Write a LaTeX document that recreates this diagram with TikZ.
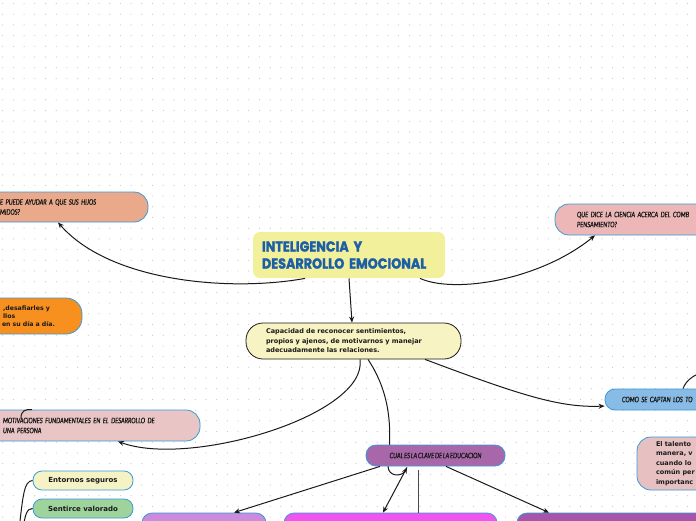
\documentclass[tikz,border=0pt]{standalone}
\usepackage{fontspec}
\usetikzlibrary{arrows.meta}
\newfontfamily\titlefont[FakeStretch=0.88,FakeBold=1.6]{Poppins}
\newfontfamily\handfont[FakeStretch=0.76,FakeBold=1.2,WordSpace=0.6]{Lato}
\newfontfamily\boxfont{DejaVu Sans}
\definecolor{bordblue}{HTML}{3A9AD9}
\definecolor{titlefill}{HTML}{F3F09B}
\definecolor{titleblue}{HTML}{1C5FA6}
\definecolor{salmon}{HTML}{E9A98A}
\definecolor{pinktr}{HTML}{EDB7B7}
\definecolor{orangef}{HTML}{F7901E}
\definecolor{capfill}{HTML}{F7F3C3}
\definecolor{motivfill}{HTML}{E9C5C5}
\definecolor{comofill}{HTML}{88BBE5}
\definecolor{talfill}{HTML}{E7C1C1}
\definecolor{cualfill}{HTML}{A867A9}
\definecolor{entfill}{HTML}{F5F3C6}
\definecolor{senfill}{HTML}{9ED39C}
\definecolor{lavfill}{HTML}{CB8CDD}
\definecolor{magfill}{HTML}{EF55EF}
\definecolor{purfill}{HTML}{A655AA}
\definecolor{dotc}{HTML}{C8C8C8}
\definecolor{inkc}{HTML}{1A1A1A}
\tikzset{
  mbox/.style={draw=bordblue, line width=0.8pt, inner sep=0pt, align=left},
  handtxt/.style={font=\handfont\itshape\fontsize{7.5}{10}\selectfont, text=inkc},
  boldtxt/.style={font=\boxfont\bfseries\fontsize{6.5}{9.5}\selectfont, text=inkc},
  conn/.style={draw=inkc, line width=1pt},
  arr/.style={conn, -{Stealth[length=6pt,width=5pt]}}
}
\begin{document}
\begin{tikzpicture}[x=1pt,y=-1pt]
\useasboundingbox (0,0) rectangle (696,520);
\clip (0,0) rectangle (696,520);
\fill[white] (0,0) rectangle (696,520);
\foreach \i in {0,...,65}{
  \foreach \j in {0,...,49}{
    \fill[dotc] (\i*10.7+2.7,\j*10.7+3.5) circle (0.6);
  }
}
\coordinate (offA) at (706,371);
\coordinate (offB) at (19,530);
\coordinate (offC) at (23,530);
\coordinate (offD) at (21,418);

% nodes
\node[mbox, draw=none, fill=titlefill, rounded corners=7pt, minimum width=192pt, minimum height=46pt,
      text width=174pt, font=\titlefont\bfseries\fontsize{14.5}{17}\selectfont, text=titleblue] (title) at (349,255)
      {INTELIGENCIA Y\\DESARROLLO EMOCIONAL};
\node[mbox, fill=salmon, rounded corners=14pt, minimum width=168pt, minimum height=30pt, text width=128pt, handtxt] (tl) at (64,207)
      {E PUEDE AYUDAR A QUE SUS HIJOS\\MIDOS?};
\node[mbox, fill=pinktr, rounded corners=14pt, minimum width=245pt, minimum height=31pt, text width=201pt, handtxt] (tr) at (677.5,219.5)
      {QUE DICE LA CIENCIA ACERCA DEL COMB\\PENSAMIENTO?};
\node[mbox, fill=orangef, rounded corners=16pt, minimum width=102pt, minimum height=36pt, text width=58pt,
      font=\boxfont\bfseries\fontsize{6.2}{8}\selectfont, text=inkc] (orng) at (31,316)
      {\,,desafiarles y\\\,llos\\en su día a día.};
\node[mbox, draw=inkc, fill=capfill, rounded corners=17pt, minimum width=215pt, minimum height=36pt, text width=175pt, boldtxt] (cap) at (353.5,341)
      {Capacidad de reconocer sentimientos,\\propios y ajenos, de motivarnos y manejar\\adecuadamente las relaciones.};
\node[mbox, fill=motivfill, rounded corners=14pt, minimum width=220pt, minimum height=31pt, text width=174pt, handtxt] (motiv) at (90,425.5)
      {MOTIVACIONES FUNDAMENTALES EN EL DESARROLLO DE\\UNA PERSONA};
\node[mbox, fill=comofill, rounded corners=10pt, minimum width=195pt, minimum height=21pt, text width=161pt, handtxt] (como) at (702.5,399.5)
      {COMO SE CAPTAN LOS TO};
\node[mbox, fill=talfill, rounded corners=14pt, minimum width=143pt, minimum height=53pt, text width=105pt, boldtxt] (tal) at (708.5,463.5)
      {El talento\\manera, v\\cuando lo\\común per\\importanc};

% connector behind CUAL box
\draw[arr] ([xshift=14.5pt]cap.south) .. controls (395,400) and (390,440) .. (388,466)
      .. controls (388,477) and (402,477) .. (407,467.5);

\node[mbox, fill=cualfill, rounded corners=10pt, minimum width=139pt, minimum height=21pt, align=center, handtxt] (cual) at (435.5,455.5)
      {CUAL ES LA CLAVE DE LA EDUCACION};
\node[mbox, fill=entfill, rounded corners=9pt, minimum width=100pt, minimum height=19pt, align=center,
      font=\boxfont\bfseries\fontsize{7}{9}\selectfont, text=inkc] (ent) at (83,480.5) {Entornos seguros};
\node[mbox, fill=senfill, rounded corners=9pt, minimum width=100pt, minimum height=19pt, align=center,
      font=\boxfont\bfseries\fontsize{7}{9}\selectfont, text=inkc] (sen) at (83,508.5) {Sentirce valorado};
\node[mbox, fill=lavfill, rounded corners=10pt, minimum width=124pt, minimum height=30pt] (lav) at (204,528) {};
\node[mbox, fill=magfill, rounded corners=10pt, minimum width=213pt, minimum height=30pt] (mag) at (390.5,528) {};
\node[mbox, fill=purfill, rounded corners=10pt, minimum width=243pt, minimum height=30pt] (pur) at (638.5,528) {};

% connectors
\draw[arr] ([xshift=-44pt]title.south) .. controls (230,292) and (110,282) .. ([xshift=-6pt]tl.south);
\draw[arr] ([xshift=71pt]title.south) .. controls (455,294) and (540,280) .. ([xshift=-82.5pt]tr.south);
\draw[arr] (title.south) -- ([xshift=-1.5pt]cap.north);
\draw[arr] ([xshift=6.5pt]cap.south) .. controls (368,415) and (190,468) .. ([xshift=28pt]motiv.south);
\draw[arr] ([xshift=71.5pt]cap.south) .. controls (520,395) and (560,408) .. ([yshift=-6.5pt]como.west);
\draw[conn] ([xshift=-19.5pt]como.north) .. controls (686,380) and (695,374) .. (offA);
\draw[arr] ([xshift=-55.5pt]cual.south) -- ([xshift=30pt]lav.north);
\draw[arr] ([xshift=-28.5pt,yshift=-1pt]cual.south) -- ([xshift=-7.5pt]mag.north);
\draw[conn, draw=inkc!80] ([xshift=-17.5pt,yshift=-4pt]cual.south) -- ([xshift=27.5pt]mag.north);
\draw[arr] ([xshift=10.5pt]cual.south) -- ([xshift=-89.5pt]pur.north);
\draw[conn] (offB) .. controls (23,495) and (24,481) .. (ent.west);
\draw[conn] (offC) .. controls (25,514) and (27,508.5) .. (sen.west);
\draw[conn] (offD) .. controls (21,411) and (25,409) .. ([xshift=-58pt]motiv.north);
\end{tikzpicture}
\end{document}
